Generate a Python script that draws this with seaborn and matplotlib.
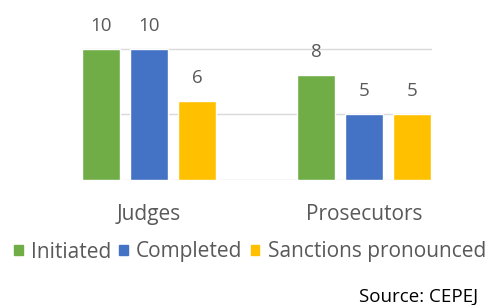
import pandas as pd
import seaborn as sns
import matplotlib.pyplot as plt

# Data
groups = ["Judges", "Prosecutors"]
series = ["Initiated", "Completed", "Sanctions pronounced"]
initiated = [10, 8]
completed = [10, 5]
sanctions = [6, 5]
colors = ["#70AD47", "#4472C4", "#FFC000"]

df = pd.DataFrame({
    "group": groups * 3,
    "series": [s for s in series for _ in groups],
    "value": initiated + completed + sanctions,
})

sns.set_style("white")
plt.rcParams["font.family"] = ["Open Sans", "DejaVu Sans"]
text_color = "#595959"

fig = plt.figure(figsize=(4.88, 3.05), dpi=100)
ax = fig.add_axes([82 / 488, 125 / 305, 350 / 488, 180 / 305])

sns.barplot(data=df, x="group", y="value", hue="series", hue_order=series,
            palette=colors, width=0.67, gap=0.21, saturation=1, ax=ax,
            legend=False)

# value labels above the bars
for cont in ax.containers:
    ax.bar_label(cont, padding=10, fontsize=13.5, color=text_color)

ax.set_xlim(-0.312, 1.316)
ax.set_ylim(0, 13.7)
ax.set_yticks([0, 5, 10])
ax.yaxis.grid(True, color="#D9D9D9", linewidth=1)
ax.set_axisbelow(True)
ax.tick_params(axis="y", left=False, labelleft=False)
ax.tick_params(axis="x", bottom=False, pad=14, labelsize=15, labelcolor=text_color)
ax.set_xlabel("")
ax.set_ylabel("")
sns.despine(ax=ax, left=True, top=True, right=True, bottom=True)

handles = [plt.Rectangle((0, 0), 1, 1, color=c) for c in colors]
fig.legend(handles, series, loc="center", bbox_to_anchor=(250 / 488, 1 - 252 / 305),
           ncol=3, frameon=False, fontsize=15, labelcolor=text_color,
           handlelength=0.4, handleheight=0.4, handletextpad=0.4, columnspacing=0.4)

fig.text(478 / 488, 1 - 297 / 305, "Source: CEPEJ", ha="right", va="center",
         fontsize=13.5, color="black")

plt.savefig("out.png", dpi=100)
plt.close()
